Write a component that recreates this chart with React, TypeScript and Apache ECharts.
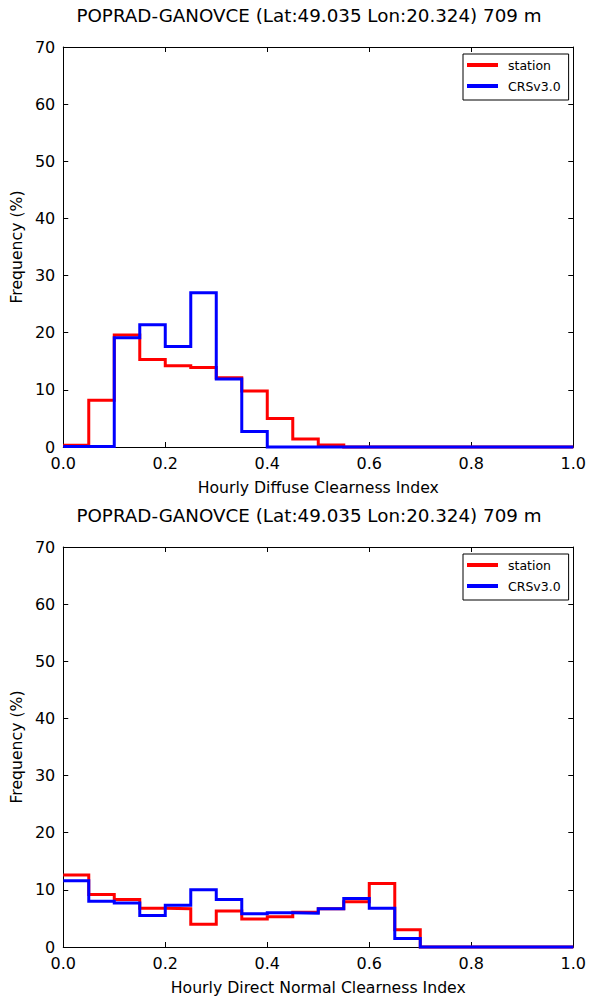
import React, { useEffect, useRef } from "react";
import * as echarts from "echarts";

const titleText = "POPRAD-GANOVCE (Lat:49.035 Lon:20.324) 709 m";
const seriesNames = ["station", "CRSv3.0"];
const seriesColors = ["#ff0000", "#0000ff"];
const binEdges = [0, 0.05, 0.1, 0.15, 0.2, 0.25, 0.3, 0.35, 0.4, 0.45, 0.5, 0.55, 0.6, 0.65, 0.7, 0.75, 0.8, 0.85, 0.9, 0.95, 1.0];

const diffuseStation = [0.3, 8.2, 19.6, 15.3, 14.2, 13.9, 12.1, 9.8, 5.0, 1.4, 0.35, 0, 0, 0, 0, 0, 0, 0, 0, 0];
const diffuseCRS = [0.1, 0.1, 19.1, 21.4, 17.6, 27.0, 11.9, 2.7, 0, 0, 0, 0, 0, 0, 0, 0, 0, 0, 0, 0];
const directStation = [12.6, 9.2, 8.3, 6.8, 6.7, 4.0, 6.3, 4.9, 5.3, 6.1, 6.7, 7.9, 11.1, 3.0, 0, 0, 0, 0, 0, 0];
const directCRS = [11.6, 8.0, 7.7, 5.5, 7.3, 10.0, 8.3, 5.8, 6.0, 5.9, 6.7, 8.5, 6.8, 1.5, 0, 0, 0, 0, 0, 0];

const xLabels = ["Hourly Diffuse Clearness Index", "Hourly Direct Normal Clearness Index"];
const yLabel = "Frequency (%)";

const FONT = "DejaVu Sans";

function stepData(vals: number[]) {
  return binEdges.map((e, i) => [e, vals[Math.min(i, vals.length - 1)]]);
}

export default function App() {
  const ref = useRef<HTMLDivElement>(null);
  useEffect(() => {
    if (!ref.current) return;
    const chart = echarts.init(ref.current, null, { renderer: "svg" });
    const grids = [
      { left: 62, top: 47, width: 512, height: 400 },
      { left: 62, top: 547, width: 512, height: 400 },
    ];
    const tickStyle = { show: true, inside: true, length: 5, lineStyle: { color: "#000", width: 1 } };
    const lineStyle = { show: true, onZero: false, lineStyle: { color: "#000", width: 1 } };
    const xAxis: any[] = [];
    const yAxis: any[] = [];
    grids.forEach((_, gi) => {
      xAxis.push({
        type: "value", gridIndex: gi, position: "bottom", min: 0, max: 1, interval: 0.2,
        axisLine: lineStyle, axisTick: tickStyle, splitLine: { show: false },
        axisLabel: { color: "#000", fontSize: 16, fontFamily: FONT, margin: 8, formatter: (v: number) => v.toFixed(1) },
        name: xLabels[gi], nameLocation: "middle", nameGap: 32,
        nameTextStyle: { color: "#000", fontSize: 15.7, fontFamily: FONT },
      });
      xAxis.push({
        type: "value", gridIndex: gi, position: "top", min: 0, max: 1, interval: 0.2,
        axisLine: lineStyle, axisTick: tickStyle, splitLine: { show: false }, axisLabel: { show: false },
      });
      yAxis.push({
        type: "value", gridIndex: gi, position: "left", min: 0, max: 70, interval: 10,
        axisLine: lineStyle, axisTick: tickStyle, splitLine: { show: false },
        axisLabel: { color: "#000", fontSize: 16, fontFamily: FONT, margin: 8 },
        name: yLabel, nameLocation: "middle", nameGap: 31,
        nameTextStyle: { color: "#000", fontSize: 15.7, fontFamily: FONT },
      });
      yAxis.push({
        type: "value", gridIndex: gi, position: "right", min: 0, max: 70, interval: 10,
        axisLine: lineStyle, axisTick: tickStyle, splitLine: { show: false }, axisLabel: { show: false },
      });
    });
    const datasets = [
      [diffuseStation, diffuseCRS],
      [directStation, directCRS],
    ];
    const series: any[] = [];
    datasets.forEach((pair, gi) => {
      pair.forEach((vals, si) => {
        series.push({
          type: "line", name: seriesNames[si], xAxisIndex: gi * 2, yAxisIndex: gi * 2,
          step: "end", symbol: "none", clip: false, data: stepData(vals),
          lineStyle: { color: seriesColors[si], width: 3, join: "miter" }, itemStyle: { color: seriesColors[si] },
          z: 3 + si,
        });
      });
    });
    const legendBase = {
      orient: "vertical", left: 463, icon: "rect", itemWidth: 31, itemHeight: 4, itemGap: 7,
      borderColor: "#000", borderWidth: 1, borderRadius: 0, backgroundColor: "#fff",
      padding: [4, 8, 7, 4], data: seriesNames,
      textStyle: { color: "#000", fontSize: 12.5, fontFamily: FONT, lineHeight: 14, padding: [0, 0, 0, 5] },
    };
    const titleStyle = { color: "#000", fontSize: 18.3, fontWeight: "normal", fontFamily: FONT };
    chart.setOption({
      animation: false,
      backgroundColor: "#fff",
      title: [
        { text: titleText, left: 309, top: 6, textAlign: "center", padding: 0, textStyle: titleStyle },
        { text: titleText, left: 309, top: 506, textAlign: "center", padding: 0, textStyle: titleStyle },
      ],
      legend: [
        { ...legendBase, top: 54 },
        { ...legendBase, top: 554 },
      ],
      grid: grids.map((g) => ({ ...g, containLabel: false })),
      xAxis,
      yAxis,
      series,
    });
    return () => chart.dispose();
  }, []);
  return <div ref={ref} style={{ position: "absolute", left: 0, top: 0, width: 589, height: 1000 }} />;
}
